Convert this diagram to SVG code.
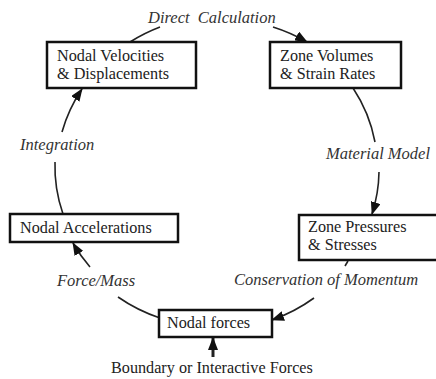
<svg xmlns="http://www.w3.org/2000/svg" width="436" height="379" viewBox="0 0 436 379">
<style>
.box{fill:#fff;stroke:#111;stroke-width:2.5}
.t{font-size:16.2px;fill:#222}
.i{font-size:16.5px;font-style:italic;fill:#333}
.c{fill:none;stroke:#222;stroke-width:1.6}
</style>
<defs>
<marker id="ah" markerUnits="userSpaceOnUse" markerWidth="13" markerHeight="10" refX="12" refY="5" orient="auto">
<path d="M0,0 L13,5 L0,10 z" fill="#111"/>
</marker>
</defs>
<rect width="436" height="379" fill="#fff"/>
<g id="connectors">
<path class="c" d="M130,42 A162,152 0 0 1 160,27"/>
<path class="c" d="M273,27 A162,152 0 0 1 307,42" marker-end="url(#ah)"/>
<path class="c" d="M353,88 A162,152 0 0 1 375,142"/>
<path class="c" d="M379,172 A162,152 0 0 1 372,214" marker-end="url(#ah)"/>
<path class="c" d="M348,261 L345,266"/>
<path class="c" d="M314,298 A162,152 0 0 1 272,320" marker-end="url(#ah)"/>
<path class="c" d="M160,318 A162,152 0 0 1 118,297"/>
<path class="c" d="M90,267 A162,152 0 0 1 73,243" marker-end="url(#ah)"/>
<path class="c" d="M63,214 A162,152 0 0 1 55,162"/>
<path class="c" d="M62,132 A162,152 0 0 1 82,89" marker-end="url(#ah)"/>
<path class="c" d="M213,357 L213,338" style="stroke-width:3" marker-end="url(#ah)"/>
</g>
<g id="labels" font-family="'Liberation Serif', 'Times New Roman', 'DejaVu Serif', serif">
<text class="i" x="148" y="23" xml:space="preserve">Direct  Calculation</text>
<text class="i" x="20" y="150">Integration</text>
<text class="i" x="326" y="159">Material Model</text>
<text class="i" x="57" y="286">Force/Mass</text>
<text class="i" x="234" y="285">Conservation of Momentum</text>
<text class="t" x="111" y="373">Boundary or Interactive Forces</text>
</g>
<g id="nodal-velocities" font-family="'Liberation Serif', 'Times New Roman', 'DejaVu Serif', serif">
<rect class="box" x="47" y="42" width="149" height="46"/>
<text class="t" x="57" y="61">Nodal Velocities</text>
<text class="t" x="57" y="79">&amp; Displacements</text>
</g>
<g id="zone-volumes" font-family="'Liberation Serif', 'Times New Roman', 'DejaVu Serif', serif">
<rect class="box" x="270" y="42" width="131" height="46"/>
<text class="t" x="280" y="61">Zone Volumes</text>
<text class="t" x="280" y="79">&amp; Strain Rates</text>
</g>
<g id="zone-pressures" font-family="'Liberation Serif', 'Times New Roman', 'DejaVu Serif', serif">
<rect class="box" x="299" y="215" width="145" height="45"/>
<text class="t" x="308" y="232">Zone Pressures</text>
<text class="t" x="308" y="250">&amp; Stresses</text>
</g>
<g id="nodal-forces" font-family="'Liberation Serif', 'Times New Roman', 'DejaVu Serif', serif">
<rect class="box" x="159" y="310" width="113" height="27"/>
<text class="t" x="167" y="328">Nodal forces</text>
</g>
<g id="nodal-accelerations" font-family="'Liberation Serif', 'Times New Roman', 'DejaVu Serif', serif">
<rect class="box" x="10" y="214" width="168" height="28"/>
<text class="t" x="20" y="233">Nodal Accelerations</text>
</g>
</svg>
